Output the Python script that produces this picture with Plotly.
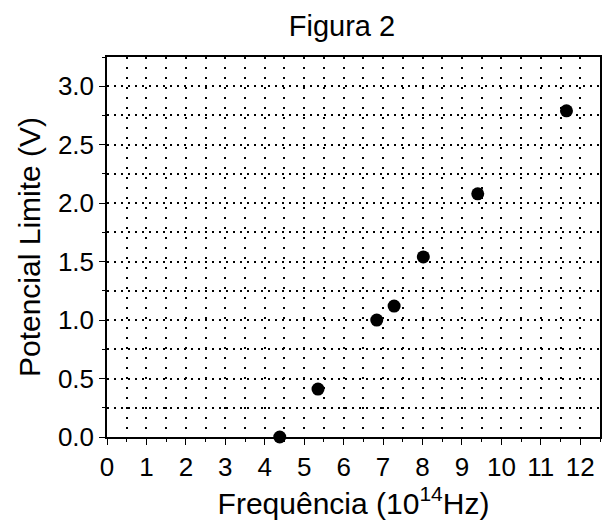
import plotly.graph_objects as go

frequency = [4.38, 5.35, 6.84, 7.28, 8.02, 9.40, 11.65]
potential = [0.0, 0.41, 1.0, 1.12, 1.54, 2.08, 2.79]

x_ticks = list(range(0, 13))
y_ticks = [0.0, 0.5, 1.0, 1.5, 2.0, 2.5, 3.0]

fig = go.Figure()
fig.add_trace(go.Scatter(
    x=frequency, y=potential, mode="markers",
    marker=dict(color="black", size=13),
    cliponaxis=False, showlegend=False,
))

font = "Liberation Sans, Arial, sans-serif"
axis_common = dict(
    showline=True, linecolor="black", linewidth=1.5, mirror=True,
    ticks="outside", ticklen=6, tickwidth=1.2, tickcolor="black",
    showgrid=True, gridcolor="black", gridwidth=1.5,
    zeroline=False,
    tickfont=dict(family=font, size=26, color="black"),
)

fig.update_xaxes(
    **axis_common,
    griddash="2px,8px",
    range=[0, 12.5], tickvals=x_ticks, ticktext=[str(v) for v in x_ticks],
    minor=dict(dtick=0.5, ticks="outside", ticklen=3, tickcolor="black",
               showgrid=True, gridcolor="black", griddash="2px,8px", gridwidth=1.5),
    title=dict(text="Frequência (10<sup>14</sup>Hz)", font=dict(family=font, size=30, color="black"), standoff=10),
)
fig.update_yaxes(
    **axis_common,
    griddash="2px,5px",
    range=[0, 3.25], tickvals=y_ticks, ticktext=[f"{v:.1f}" for v in y_ticks],
    minor=dict(dtick=0.25, ticks="outside", ticklen=3, tickcolor="black",
               showgrid=True, gridcolor="black", griddash="2px,5px", gridwidth=1.5),
    title=dict(text="Potencial Limite (V)", font=dict(family=font, size=30, color="black"), standoff=8),
)

fig.update_layout(
    width=602, height=513,
    margin=dict(l=99, r=8, t=49, b=79),
    plot_bgcolor="white", paper_bgcolor="white",
    title=dict(text="Figura 2", x=334 / 602, xanchor="center", y=1 - 18 / 513, yanchor="middle",
               font=dict(family=font, size=29, color="black")),
)

fig.write_html("out.html")
